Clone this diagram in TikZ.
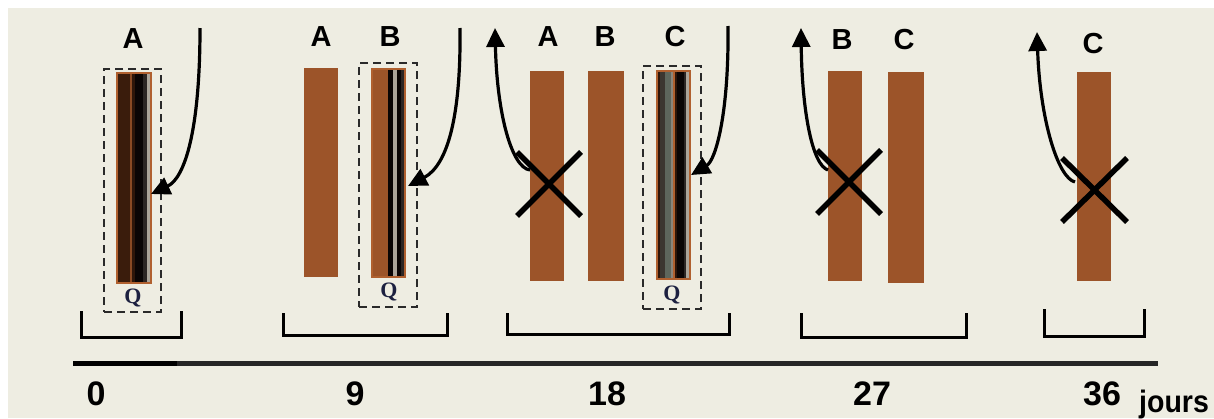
\documentclass[tikz,border=0pt]{standalone}
\usepackage{fontspec}
\setmainfont{Liberation Sans}
\newfontfamily\qfont{Liberation Serif}
\usetikzlibrary{arrows.meta}
\definecolor{bgbeige}{HTML}{EEEDE2}
\definecolor{barbrown}{HTML}{9C5429}
\definecolor{barline}{HTML}{B0602F}
\definecolor{dashgrey}{HTML}{2A2A2A}
\definecolor{qblue}{HTML}{1C2040}
\definecolor{stA}{HTML}{3A1C0C}
\definecolor{stB}{HTML}{8A4A24}
\definecolor{stC}{HTML}{2E160A}
\definecolor{stK}{HTML}{0A0505}
\definecolor{stD}{HTML}{2C2624}
\definecolor{stL}{HTML}{ACA59A}
\definecolor{stG}{HTML}{5E665C}
\definecolor{stH}{HTML}{3C3630}
\begin{document}
\begin{tikzpicture}[x=1pt,y=-1pt,
  bar/.style={rectangle, inner sep=0pt, outer sep=0pt, fill=barbrown, draw=none},
  sbar/.style={rectangle, inner sep=0pt, outer sep=0pt, draw=barline, line width=1.2pt},
  qbox/.style={rectangle, inner sep=0pt, outer sep=0pt, draw=dashgrey, line width=2.8pt, dash pattern=on 8pt off 5pt},
  lbl/.style={font=\fontsize{29}{30}\selectfont\bfseries, anchor=base, inner sep=0pt},
  num/.style={font=\fontsize{34}{36}\selectfont\bfseries, anchor=base, inner sep=0pt},
  qlbl/.style={font=\qfont\bfseries\fontsize{22}{24}\selectfont, text=qblue, anchor=base, inner sep=0pt},
  brk/.style={line width=3pt, line join=miter},
  cross/.style={line width=5.5pt},
  arr/.style={line width=3.2pt, -{Triangle[length=19pt,width=18pt]}},
]
\useasboundingbox (0,0) rectangle (1214,418);
\fill[white] (0,0) rectangle (1214,418);
\fill[bgbeige] (8,8) rectangle (1214,418);

% ---------- day 0 ----------
\fill[stA] (117,73) rectangle (130,283);
\fill[stB] (130,73) rectangle (132,283);
\fill[stC] (132,73) rectangle (135,283);
\fill[stK] (135,73) rectangle (143,283);
\fill[stD] (143,73) rectangle (147,283);
\fill[stL] (147,73) rectangle (151,283);
\node[sbar, minimum width=34pt, minimum height=210pt] (g0A) at (134,178) {};
\node[qbox, minimum width=57pt, minimum height=243pt] (g0box) at (132.5,190.5) {};
\node[qlbl] (g0Q) at (133,303) {Q};
\node[lbl] (g0lA) at (133,48) {A};
\coordinate (g0s) at (200,28);
\coordinate (g0t) at (151,194);
\draw[arr] (g0s) .. controls (200,130) and (185,178) .. (g0t);

% ---------- day 9 ----------
\node[bar, minimum width=34pt, minimum height=209pt] (g9A) at (321,172.5) {};
\fill[barbrown] (372,69) rectangle (405,277);
\fill[stK] (388,69) rectangle (393,277);
\fill[stL] (393,69) rectangle (397,277);
\fill[stK] (397,69) rectangle (401,277);
\fill[stD] (401,69) rectangle (404.5,277);
\node[sbar, minimum width=33pt, minimum height=208pt] (g9B) at (388.5,173) {};
\node[qbox, minimum width=58pt, minimum height=244pt] (g9box) at (388,185) {};
\node[qlbl] (g9Q) at (389,297) {Q};
\node[lbl] (g9lA) at (321,46) {A};
\node[lbl] (g9lB) at (390,46) {B};
\coordinate (g9s) at (460,28);
\coordinate (g9t) at (408,186);
\draw[arr] (g9s) .. controls (461,115) and (448,165) .. (g9t);

% ---------- day 18 ----------
\node[bar, minimum width=34pt, minimum height=210pt] (g18A) at (547,176) {};
\node[bar, minimum width=36pt, minimum height=210pt] (g18B) at (606,176) {};
\fill[stC] (657,71) rectangle (660,279);
\fill[stH] (660,71) rectangle (665,279);
\fill[stG] (665,71) rectangle (671,279);
\fill[stL!70!stH] (671,71) rectangle (672.5,279);
\fill[barline] (672.5,71) rectangle (674.5,279);
\fill[stC] (674.5,71) rectangle (677,279);
\fill[stK] (677,71) rectangle (684,279);
\fill[stD] (684,71) rectangle (686,279);
\fill[stL] (686,71) rectangle (690,279);
\node[sbar, minimum width=33pt, minimum height=208pt] (g18C) at (673.5,175) {};
\node[qbox, minimum width=58pt, minimum height=243pt] (g18box) at (672,187.5) {};
\node[qlbl] (g18Q) at (672,300) {Q};
\node[lbl] (g18lA) at (548,46) {A};
\node[lbl] (g18lB) at (605,46) {B};
\node[lbl] (g18lC) at (675,46) {C};
\coordinate (g18s) at (728,26);
\coordinate (g18t) at (691,175);
\draw[arr] (g18s) .. controls (729,112) and (716,160) .. (g18t);
\coordinate (g18u) at (530,170);
\coordinate (g18v) at (495,28);
\draw[arr] (g18u) .. controls (512,168) and (497,115) .. (g18v);
\draw[cross] (517,152) -- (581,216) (581,152) -- (517,216);

% ---------- day 27 ----------
\node[bar, minimum width=34pt, minimum height=210pt] (g27B) at (845,176) {};
\node[bar, minimum width=36pt, minimum height=211pt] (g27C) at (906,177.5) {};
\node[lbl] (g27lB) at (842,49) {B};
\node[lbl] (g27lC) at (904,49) {C};
\coordinate (g27u) at (828,170);
\coordinate (g27v) at (801,28);
\draw[arr] (g27u) .. controls (812,165) and (802,110) .. (g27v);
\draw[cross] (817,150) -- (881,214) (881,150) -- (817,214);

% ---------- day 36 ----------
\node[bar, minimum width=34pt, minimum height=209pt] (g36C) at (1094,176.5) {};
\node[lbl] (g36lC) at (1093,53) {C};
\coordinate (g36u) at (1075,182);
\coordinate (g36v) at (1037,32);
\draw[arr] (g36u) .. controls (1058,178) and (1040,120) .. (g36v);
\draw[cross] (1062,158) -- (1127,222) (1127,158) -- (1062,222);

% ---------- brackets ----------
\draw[brk] (81,311) -- (81,337) -- (181,337) -- (181,311);
\draw[brk] (283,313) -- (283,335) -- (447,335) -- (447,313);
\draw[brk] (507,313) -- (507,334) -- (729,334) -- (729,313);
\draw[brk] (801,313) -- (801,337) -- (966,337) -- (966,313);
\draw[brk] (1044,309) -- (1044,336) -- (1144,336) -- (1144,309);

% ---------- time axis ----------
\draw[line width=4.5pt, black!85] (73,363.5) -- (1158,363.5);
\draw[line width=5.5pt] (73,363.5) -- (177,363.5);
\node[num] (d0) at (96,405) {0};
\node[num] (d9) at (355,405) {9};
\node[num] (d18) at (607,405) {18};
\node[num] (d27) at (872,405) {27};
\node[num] (d36) at (1102,405) {36};
\node[anchor=base west, inner sep=0pt, font=\fontsize{31}{33}\selectfont\bfseries, xscale=0.92] (jours) at (1139,412) {jours};
\end{tikzpicture}
\end{document}
